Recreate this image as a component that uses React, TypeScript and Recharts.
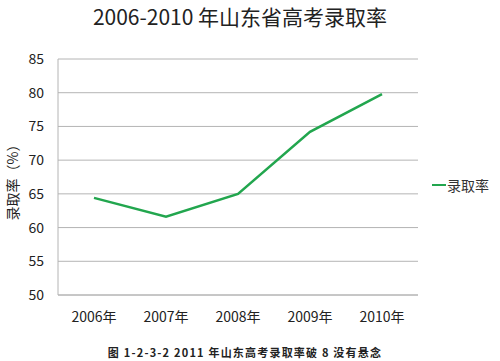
import { CartesianGrid, Line, LineChart, XAxis, YAxis } from "recharts";

const years = ["2006年", "2007年", "2008年", "2009年", "2010年"];
const rates = [64.4, 61.6, 65.0, 74.2, 79.8];
const yTicks = [50, 55, 60, 65, 70, 75, 80, 85];
const seriesName = "录取率";

const data = years.map((year, i) => ({ year, rate: rates[i] }));

const font = "'Noto Sans CJK SC', 'Noto Sans', sans-serif";
const green = "#22a64e";
const gridColor = "#b4b4b4";

export default function App() {
  return (
    <div style={{ position: "absolute", left: 0, top: 0, width: 500, height: 361, background: "#fff", fontFamily: font }}>
      <div style={{ position: "absolute", left: 0, width: 480, top: 1, textAlign: "center", fontSize: 21, color: "#222" }}>
        2006-2010 年山东省高考录取率
      </div>
      <LineChart data={data} height={361} margin={{ bottom: 36, left: 18, right: 82, top: 59 }} width={500}>
        <CartesianGrid horizontal stroke={gridColor} vertical={false} />
        <XAxis
          axisLine={{ stroke: gridColor }}
          dataKey="year"
          height={30}
          padding={{ left: 36, right: 36 }}
          tick={{ fill: "#222", fontSize: 14, fontFamily: font }}
          tickLine={false}
          tickMargin={17}
          tickSize={0}
        />
        <YAxis
          axisLine={{ stroke: gridColor }}
          domain={[50, 85]}
          tick={{ fill: "#222", fontSize: 14, fontFamily: font }}
          tickLine={false}
          tickMargin={14}
          tickSize={0}
          ticks={yTicks}
          width={40}
          label={{
            content: () => (
              <text fill="#222" fontFamily={font} fontSize={14} textAnchor="middle" transform="rotate(-90 13 179)" x={13} y={179} dy="0.35em">
                录取率（%）
              </text>
            )
          }}
        />
        <Line dataKey="rate" dot={false} isAnimationActive={false} name={seriesName} stroke={green} strokeWidth={2.5} type="linear" />
      </LineChart>
      <div style={{ position: "absolute", left: 432, top: 175, display: "flex", alignItems: "center", fontSize: 14, color: "#333" }}>
        <span style={{ display: "inline-block", width: 14, height: 2.5, background: green, marginRight: 1 }} />
        {seriesName}
      </div>
      <div style={{ position: "absolute", left: 0, width: 490, top: 344, textAlign: "center", fontSize: 11, fontWeight: 700, letterSpacing: 1.2, color: "#222" }}>
        图 1-2-3-2 2011 年山东高考录取率破 8 没有悬念
      </div>
    </div>
  );
}
